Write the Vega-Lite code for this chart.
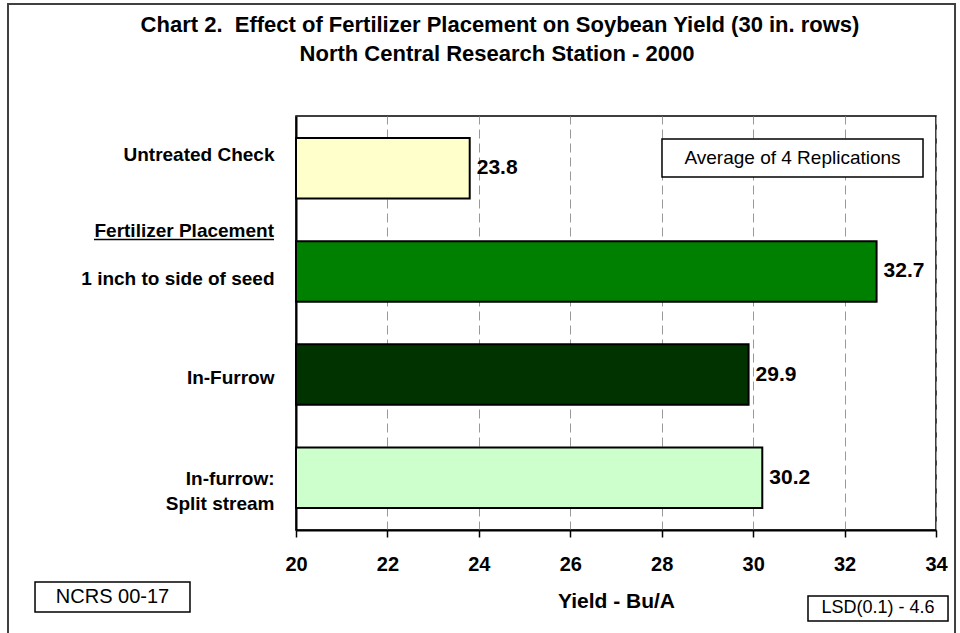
{
  "$schema": "https://vega.github.io/schema/vega-lite/v6.json",
  "width": 640,
  "height": 414,
  "autosize": {"type": "none"},
  "padding": {"left": 296, "top": 116, "right": 24, "bottom": 103},
  "background": "white",
  "config": {
    "font": "Liberation Sans",
    "view": {"stroke": "black", "strokeWidth": 1.5},
    "text": {"font": "Liberation Sans", "color": "black"}
  },
  "data": {
    "values": [
      {"treatment": "Untreated Check", "yield": 23.8},
      {"treatment": "1 inch to side of seed", "yield": 32.7},
      {"treatment": "In-Furrow", "yield": 29.9},
      {"treatment": "In-furrow: Split stream", "yield": 30.2}
    ]
  },
  "resolve": {"scale": {"y": "independent"}},
  "layer": [
    {
      "mark": {"type": "bar", "stroke": "black", "strokeWidth": 2},
      "encoding": {
        "y": {
          "field": "treatment", "type": "nominal", "sort": null,
          "scale": {"paddingInner": 0.414, "paddingOuter": 0.213},
          "axis": {
            "title": null, "ticks": false, "tickSize": 0, "grid": false,
            "domain": true, "domainColor": "black", "domainWidth": 2,
            "labelFont": "Liberation Sans", "labelFontSize": 19, "labelFontWeight": "bold",
            "labelColor": "black", "labelPadding": 22, "labelLimit": 300, "labelLineHeight": 25,
            "labelExpr": "datum.value === 'In-furrow: Split stream' ? ['In-furrow:', 'Split stream'] : datum.value",
            "labelOffset": {
              "condition": [
                {"test": "datum.value === 'Untreated Check'", "value": -13},
                {"test": "datum.value === '1 inch to side of seed'", "value": 8},
                {"test": "datum.value === 'In-furrow: Split stream'", "value": 1}
              ],
              "value": 3
            }
          }
        },
        "x": {
          "field": "yield", "type": "quantitative",
          "scale": {"domain": [20, 34], "zero": false, "nice": false},
          "axis": {
            "title": "Yield - Bu/A", "titleFont": "Liberation Sans", "titleFontSize": 21,
            "titleFontWeight": "bold", "titleColor": "black", "titlePadding": 16,
            "values": [20, 22, 24, 26, 28, 30, 32, 34],
            "labelFont": "Liberation Sans", "labelFontSize": 20, "labelFontWeight": "bold",
            "labelColor": "black", "labelPadding": 17, "labelFlush": false,
            "tickColor": "black", "tickSize": 7, "tickWidth": 1.5,
            "domainColor": "black", "domainWidth": 2,
            "grid": true, "gridColor": "#999999", "gridDash": [9, 5], "gridWidth": 1
          }
        },
        "x2": {"datum": 20},
        "color": {
          "field": "treatment", "type": "nominal", "legend": null,
          "scale": {
            "domain": ["Untreated Check", "1 inch to side of seed", "In-Furrow", "In-furrow: Split stream"],
            "range": ["#FFFFCC", "#008000", "#003300", "#CCFFCC"]
          }
        }
      }
    },
    {
      "mark": {"type": "text", "align": "left", "baseline": "middle", "dx": 7, "fontSize": 21, "fontWeight": "bold", "color": "black"},
      "encoding": {
        "y": {"field": "treatment", "type": "nominal", "sort": null, "scale": {"paddingInner": 0.414, "paddingOuter": 0.213}, "axis": null},
        "x": {"field": "yield", "type": "quantitative"},
        "text": {"field": "yield", "type": "quantitative", "format": ".1f"}
      }
    },
    {
      "data": {"values": [{}]},
      "mark": {"type": "rect", "fill": null, "filled": false, "stroke": "#404040", "strokeWidth": 2, "clip": false},
      "encoding": {
        "x": {"datum": 13.7, "type": "quantitative"},
        "x2": {"datum": 34.416},
        "y": {"datum": 127.05, "type": "quantitative", "scale": {"domain": [0, 100], "zero": false, "nice": false}, "axis": null},
        "y2": {"datum": -28.99}
      }
    },
    {
      "data": {"values": [{}]},
      "mark": {"type": "text", "text": "Chart 2.\u00a0 Effect of Fertilizer Placement on Soybean Yield (30 in. rows)", "align": "center", "baseline": "alphabetic", "fontSize": 22, "fontWeight": "bold", "color": "black"},
      "encoding": {
        "x": {"datum": 24.4625, "type": "quantitative"},
        "y": {"datum": 120.29, "type": "quantitative", "scale": {"domain": [0, 100], "zero": false, "nice": false}, "axis": null}
      }
    },
    {
      "data": {"values": [{}]},
      "mark": {"type": "text", "text": "North Central Research Station - 2000", "align": "center", "baseline": "alphabetic", "fontSize": 22, "fontWeight": "bold", "color": "black"},
      "encoding": {
        "x": {"datum": 24.397, "type": "quantitative"},
        "y": {"datum": 113.29, "type": "quantitative", "scale": {"domain": [0, 100], "zero": false, "nice": false}, "axis": null}
      }
    },
    {
      "data": {"values": [{}]},
      "mark": {"type": "text", "text": "Fertilizer Placement", "align": "right", "baseline": "alphabetic", "fontSize": 19, "fontWeight": "bold", "color": "black"},
      "encoding": {
        "x": {"datum": 19.519, "type": "quantitative"},
        "y": {"datum": 70.77, "type": "quantitative", "scale": {"domain": [0, 100], "zero": false, "nice": false}, "axis": null}
      }
    },
    {
      "data": {"values": [{}]},
      "mark": {"type": "rule", "color": "black", "strokeWidth": 1.5},
      "encoding": {
        "x": {"datum": 15.581, "type": "quantitative"},
        "x2": {"datum": 19.519},
        "y": {"datum": 70.17, "type": "quantitative", "scale": {"domain": [0, 100], "zero": false, "nice": false}, "axis": null}
      }
    },
    {
      "data": {"values": [{}]},
      "mark": {"type": "rect", "fill": "white", "stroke": "black", "strokeWidth": 1.5},
      "encoding": {
        "x": {"datum": 28.006, "type": "quantitative"},
        "x2": {"datum": 33.716},
        "y": {"datum": 94.44, "type": "quantitative", "scale": {"domain": [0, 100], "zero": false, "nice": false}, "axis": null},
        "y2": {"datum": 85.27}
      }
    },
    {
      "data": {"values": [{}]},
      "mark": {"type": "text", "text": "Average of 4 Replications", "align": "center", "baseline": "middle", "fontSize": 19, "color": "black"},
      "encoding": {
        "x": {"datum": 30.861, "type": "quantitative"},
        "y": {"datum": 89.86, "type": "quantitative", "scale": {"domain": [0, 100], "zero": false, "nice": false}, "axis": null}
      }
    },
    {
      "data": {"values": [{}]},
      "mark": {"type": "rect", "fill": "white", "stroke": "black", "strokeWidth": 1.5, "clip": false},
      "encoding": {
        "x": {"datum": 14.291, "type": "quantitative"},
        "x2": {"datum": 17.681},
        "y": {"datum": -12.56, "type": "quantitative", "scale": {"domain": [0, 100], "zero": false, "nice": false}, "axis": null},
        "y2": {"datum": -19.81}
      }
    },
    {
      "data": {"values": [{}]},
      "mark": {"type": "text", "text": "NCRS 00-17", "align": "center", "baseline": "middle", "fontSize": 20, "color": "black"},
      "encoding": {
        "x": {"datum": 15.986, "type": "quantitative"},
        "y": {"datum": -16.18, "type": "quantitative", "scale": {"domain": [0, 100], "zero": false, "nice": false}, "axis": null}
      }
    },
    {
      "data": {"values": [{}]},
      "mark": {"type": "rect", "fill": "white", "stroke": "black", "strokeWidth": 1.5, "clip": false},
      "encoding": {
        "x": {"datum": 31.2, "type": "quantitative"},
        "x2": {"datum": 34.263},
        "y": {"datum": -15.94, "type": "quantitative", "scale": {"domain": [0, 100], "zero": false, "nice": false}, "axis": null},
        "y2": {"datum": -21.98}
      }
    },
    {
      "data": {"values": [{}]},
      "mark": {"type": "text", "text": "LSD(0.1) - 4.6", "align": "center", "baseline": "middle", "fontSize": 18, "color": "black"},
      "encoding": {
        "x": {"datum": 32.731, "type": "quantitative"},
        "y": {"datum": -18.96, "type": "quantitative", "scale": {"domain": [0, 100], "zero": false, "nice": false}, "axis": null}
      }
    }
  ]
}
